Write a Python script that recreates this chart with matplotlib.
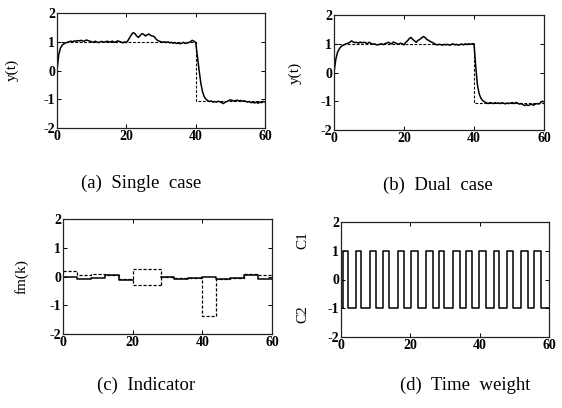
import numpy as np
import matplotlib
matplotlib.use("Agg")
import matplotlib.pyplot as plt

plt.rcParams['font.family'] = ['Liberation Serif', 'DejaVu Serif']
plt.rcParams['axes.unicode_minus'] = False

# ---------------- data ----------------
t = [i * 0.5 for i in range(121)]

y_single = [0.0, 0.55, 0.78, 0.88, 0.93,
            0.96, 0.98, 1.0, 1.02, 1.0, 1.03,
            1.02, 1.04, 1.03, 1.05, 1.02, 1.03, 1.06, 1.04, 1.02, 1.0,
            0.98, 1.02, 0.99, 0.97, 1.0, 1.01, 0.98, 1.0, 1.02, 0.99,
            1.0, 1.02, 0.98, 1.0, 1.03, 1.01, 0.99, 0.96, 1.0, 0.97,
            1.05, 1.15, 1.25, 1.32, 1.28, 1.2, 1.15, 1.22, 1.28, 1.26,
            1.2, 1.24, 1.27, 1.22, 1.2, 1.18, 1.1, 1.05, 1.02, 1.0,
            0.98, 1.0, 0.97, 1.0, 0.96, 0.98, 0.95, 0.97, 0.94, 0.96,
            0.93, 0.95, 0.98, 0.94, 0.96, 0.97, 1.0, 1.05, 1.02, 0.98,
            0.5, 0.0, -0.45, -0.75, -0.92, -1.0, -1.05, -1.08, -1.06, -1.1,
            -1.08, -1.1, -1.07, -1.09, -1.12, -1.15, -1.1, -1.08, -1.05, -1.02,
            -1.04, -1.06, -1.05, -1.03, -1.06, -1.04, -1.07, -1.05, -1.08, -1.1,
            -1.08, -1.12, -1.1, -1.13, -1.1, -1.14, -1.1, -1.12, -1.08, -1.1]

y_dual = [0.0, 0.45, 0.7, 0.82, 0.9,
          0.94, 0.97, 1.0, 1.02, 1.05, 1.1,
          1.06, 1.04, 1.05, 1.02, 1.06, 1.03, 1.05, 1.04, 1.0, 1.05,
          1.02, 0.98, 1.0, 0.97, 0.96, 0.98, 1.0, 0.97, 1.0, 1.02,
          1.05, 1.02, 1.0, 1.06, 1.03, 1.0, 0.98, 1.02, 1.0, 0.96,
          1.05, 1.1, 1.18, 1.22, 1.15, 1.1, 1.05, 1.12, 1.15, 1.2,
          1.25, 1.22, 1.15, 1.12, 1.08, 1.05, 1.02, 0.98, 0.96, 0.98,
          0.97, 0.95, 0.98, 0.96, 0.98, 0.95, 0.97, 1.0, 0.96, 0.98,
          0.95, 0.97, 0.99, 0.96, 1.0, 0.97, 1.0, 0.98, 1.0, 1.0,
          0.2, -0.45, -0.75, -0.9, -0.98, -1.02, -1.05, -1.08, -1.05, -1.06,
          -1.08, -1.05, -1.07, -1.06, -1.08, -1.05, -1.07, -1.09, -1.06, -1.08,
          -1.06, -1.05, -1.08, -1.04, -1.07, -1.1, -1.08, -1.12, -1.15, -1.12,
          -1.15, -1.12, -1.1, -1.14, -1.1, -1.08, -1.1, -1.05, -1.0, -1.02]

ref_edges = [0, 40, 60]
ref_levels = [1.0, -1.05]

# indicator fm(k), piecewise constant over 4-step blocks
fm_edges = [0, 4, 8, 12, 16, 20, 24, 28, 32, 36, 40, 44, 48, 52, 56, 60]
fm_solid = [0.0, -0.07, -0.04, 0.04, -0.12, -0.3, -0.3, -0.02, -0.1, -0.04,
            -0.02, -0.1, -0.05, 0.05, -0.1]
fm_dashed = [0.18, 0.05, 0.07, 0.05, -0.08, 0.25, 0.25, 0.0, -0.05, -0.05,
             -1.38, -0.08, -0.05, 0.1, 0.05]

# time weight switching C1 / C2
tw_edges = [0, 0.6, 2.1, 4.2, 5.9, 8.3, 10.0, 12.2, 13.9, 16.5, 18.1, 20.3,
            22.2, 24.6, 26.5, 28.4, 29.8, 32.2, 34.2, 36.0, 37.9, 39.9, 41.8,
            44.2, 45.6, 48.0, 49.5, 51.9, 53.8, 55.7, 57.6, 60]
tw_levels = [-1, 1, -1, 1, -1, 1, -1, 1, -1, 1, -1, 1, -1, 1, -1, 1, -1, 1,
             -1, 1, -1, 1, -1, 1, -1, 1, -1, 1, -1, 1, -1]

xticks = [0, 20, 40, 60]
yticks = [-2, -1, 0, 1, 2]


def step_path(edges, vals):
    xs, ys = [], []
    for i, v in enumerate(vals):
        xs += [edges[i], edges[i + 1]]
        ys += [v, v]
    return xs, ys


# ---------------- figure ----------------
fig = plt.figure(figsize=(5.62, 4.08), dpi=100)

W, H = 562.0, 408.0
boxes = {
    'a': (57, 13, 265, 128),
    'b': (334, 15, 544, 130),
    'c': (63, 219, 272, 334),
    'd': (341, 222, 549, 337),
}
axes = {}
for k, (x0, y0, x1, y1) in boxes.items():
    ax = fig.add_axes([x0 / W, 1 - y1 / H, (x1 - x0) / W, (y1 - y0) / H])
    ax.set_xlim(0, 60)
    ax.set_ylim(-2, 2)
    ax.set_xticks(xticks)
    ax.set_yticks(yticks)
    ax.tick_params(direction='in', length=3, width=0.7, top=True, right=True,
                   labelsize=10, pad=1.5)
    for lab in ax.get_xticklabels() + ax.get_yticklabels():
        lab.set_fontweight('bold')
    for s in ax.spines.values():
        s.set_linewidth(0.9)
        s.set_color('#222222')
    axes[k] = ax

lw = 1.1
dash = (0, (2.5, 1.5))
# (a)
ax = axes['a']
rx, ry = step_path(ref_edges, ref_levels)
ax.plot(rx, ry, color='black', lw=0.8, ls=dash)
ax.plot(t, y_single, color='black', lw=lw)
# (b)
ax = axes['b']
ax.plot(rx, ry, color='black', lw=0.8, ls=dash)
ax.plot(t, y_dual, color='black', lw=lw)

# (c)
ax = axes['c']
dx, dy = step_path(fm_edges, fm_dashed)
ax.plot(dx, dy, color='black', lw=0.9, ls=dash)
sx, sy = step_path(fm_edges[:6], fm_solid[:5])
ax.plot(sx, sy, color='black', lw=lw)
mx, my = step_path(fm_edges[4:8], fm_solid[4:7])
ax.plot(mx[1:], my[1:], color='black', lw=0.9, ls=dash)
ax.plot([fm_edges[7], fm_edges[7]], [fm_solid[6], fm_solid[7]], color='black', lw=0.9, ls=dash)
ex, ey = step_path(fm_edges[7:], fm_solid[7:])
ax.plot(ex, ey, color='black', lw=lw)

# (d)
ax = axes['d']
wx, wy = step_path(tw_edges, tw_levels)
ax.plot(wx, wy, color='black', lw=lw)

# labels
lab = dict(rotation=90, ha='center', va='center', fontsize=11)
fig.text(12 / W, 1 - 70 / H, 'y(t)', **lab)
fig.text(295 / W, 1 - 73 / H, 'y(t)', **lab)
fig.text(22 / W, 1 - 277 / H, 'fm(k)', **lab)
fig.text(303 / W, 1 - 240 / H, 'C1', **lab)
fig.text(303 / W, 1 - 314 / H, 'C2', **lab)

cap = dict(ha='center', va='center', fontsize=13.5)
fig.text(141 / W, 1 - 183 / H, '(a)  Single  case', **cap)
fig.text(438 / W, 1 - 185 / H, '(b)  Dual  case', **cap)
fig.text(146 / W, 1 - 385 / H, '(c)  Indicator', **cap)
fig.text(465 / W, 1 - 385 / H, '(d)  Time  weight', **cap)

fig.savefig('out.png', dpi=100)
